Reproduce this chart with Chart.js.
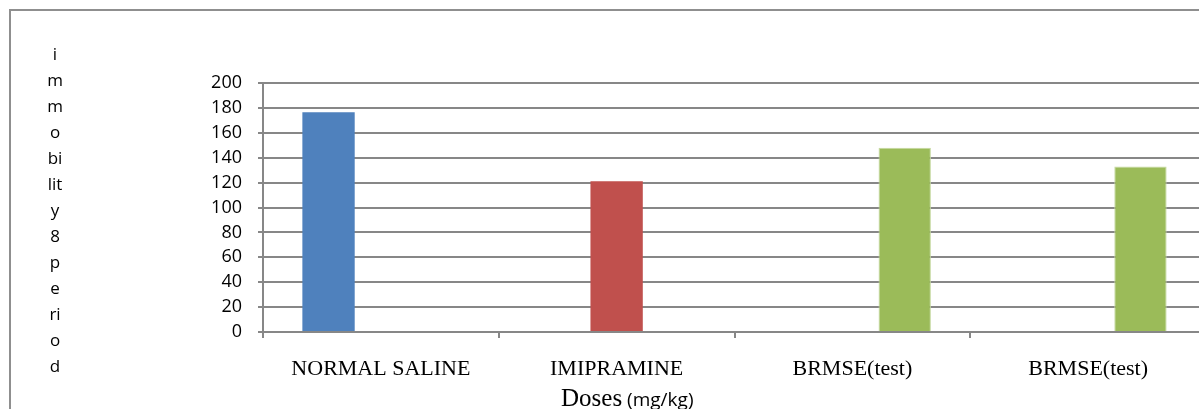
<!DOCTYPE html>
<html>
<head>
<meta charset="utf-8">
<script src="https://cdn.jsdelivr.net/npm/chart.js@4.4.1/dist/chart.umd.min.js"></script>
<style>
  html, body { margin: 0; padding: 0; background: #fff; overflow: hidden; width: 1199px; height: 409px; }
  #frame { position: absolute; left: 9px; top: 9px; width: 1300px; height: 500px; border: 2px solid #8f8f8f; box-sizing: border-box; }
  #wrap { position: absolute; left: 0; top: 0; width: 1230px; height: 409px; }
</style>
</head>
<body>
<div id="frame"></div>
<div id="wrap"><canvas id="c"></canvas></div>
<script>
// Immobility period per treatment group
const categories = ['NORMAL SALINE', 'IMIPRAMINE', 'BRMSE(test)', 'BRMSE(test)'];
const salineValues = [176.5, null, null, null];
const imipramineValues = [null, 121, null, null];
const brmseValues = [null, null, 148, 133];
const yTicks = [0, 20, 40, 60, 80, 100, 120, 140, 160, 180, 200];
const yTitleLines = ['i', 'm', 'm', 'o', 'bi', 'lit', 'y', '8', 'p', 'e', 'ri', 'o', 'd'];
const xTitleMain = 'Doses';
const xTitleUnit = '(mg/kg)';

const gridGrey = '#878787';

// Stacked-letter y-axis title and the two-font x-axis title
const axisTitles = {
  id: 'axisTitles',
  afterDraw(chart) {
    const ctx = chart.ctx;
    ctx.save();
    ctx.fillStyle = '#000';
    ctx.font = '17px "Open Sans"';
    ctx.textAlign = 'center';
    ctx.textBaseline = 'middle';
    yTitleLines.forEach((t, i) => ctx.fillText(t, 55, 55 + i * 26));

    ctx.textAlign = 'left';
    ctx.textBaseline = 'alphabetic';
    ctx.font = '25px "Liberation Serif"';
    const x0 = 561;
    ctx.fillText(xTitleMain, x0, 406);
    const w = ctx.measureText(xTitleMain).width;
    ctx.font = '19px "Open Sans"';
    ctx.fillText(xTitleUnit, x0 + w + 5, 406);
    ctx.restore();
  }
};

new Chart(document.getElementById('c'), {
  type: 'bar',
  data: {
    labels: categories,
    datasets: [
      { label: 'Normal saline', data: salineValues, backgroundColor: '#4F81BD' },
      { label: 'Imipramine', data: imipramineValues, backgroundColor: '#C0504D' },
      { label: 'BRMSE', data: brmseValues, backgroundColor: '#9BBB59', borderColor: '#c5d9a0', borderWidth: 1 }
    ]
  },
  options: {
    responsive: true,
    maintainAspectRatio: false,
    animation: false,
    layout: { padding: { left: 0, top: 83, right: 24, bottom: 0 } },
    datasets: { bar: { categoryPercentage: 0.666, barPercentage: 1.0 } },
    plugins: { legend: { display: false }, tooltip: { enabled: false }, title: { display: false } },
    scales: {
      x: {
        grid: { display: true, drawOnChartArea: false, drawTicks: true, tickLength: 6, offset: true, color: gridGrey, lineWidth: 2 },
        border: { display: true, color: gridGrey, width: 2 },
        ticks: { color: '#000', font: { family: 'Liberation Serif', size: 22 }, padding: 18, maxRotation: 0, autoSkip: false },
        afterFit(s) { s.height = 77; }
      },
      y: {
        min: 0,
        max: 200,
        afterBuildTicks(s) { s.ticks = yTicks.map(v => ({ value: v })); },
        grid: { color: gridGrey, lineWidth: 2, drawTicks: true, tickLength: 5 },
        border: { display: true, color: gridGrey, width: 2 },
        ticks: { color: '#000', font: { family: 'Open Sans', size: 18 }, padding: 16 },
        afterFit(s) { s.width = 263; }
      }
    }
  },
  plugins: [axisTitles]
});
</script>
</body>
</html>
